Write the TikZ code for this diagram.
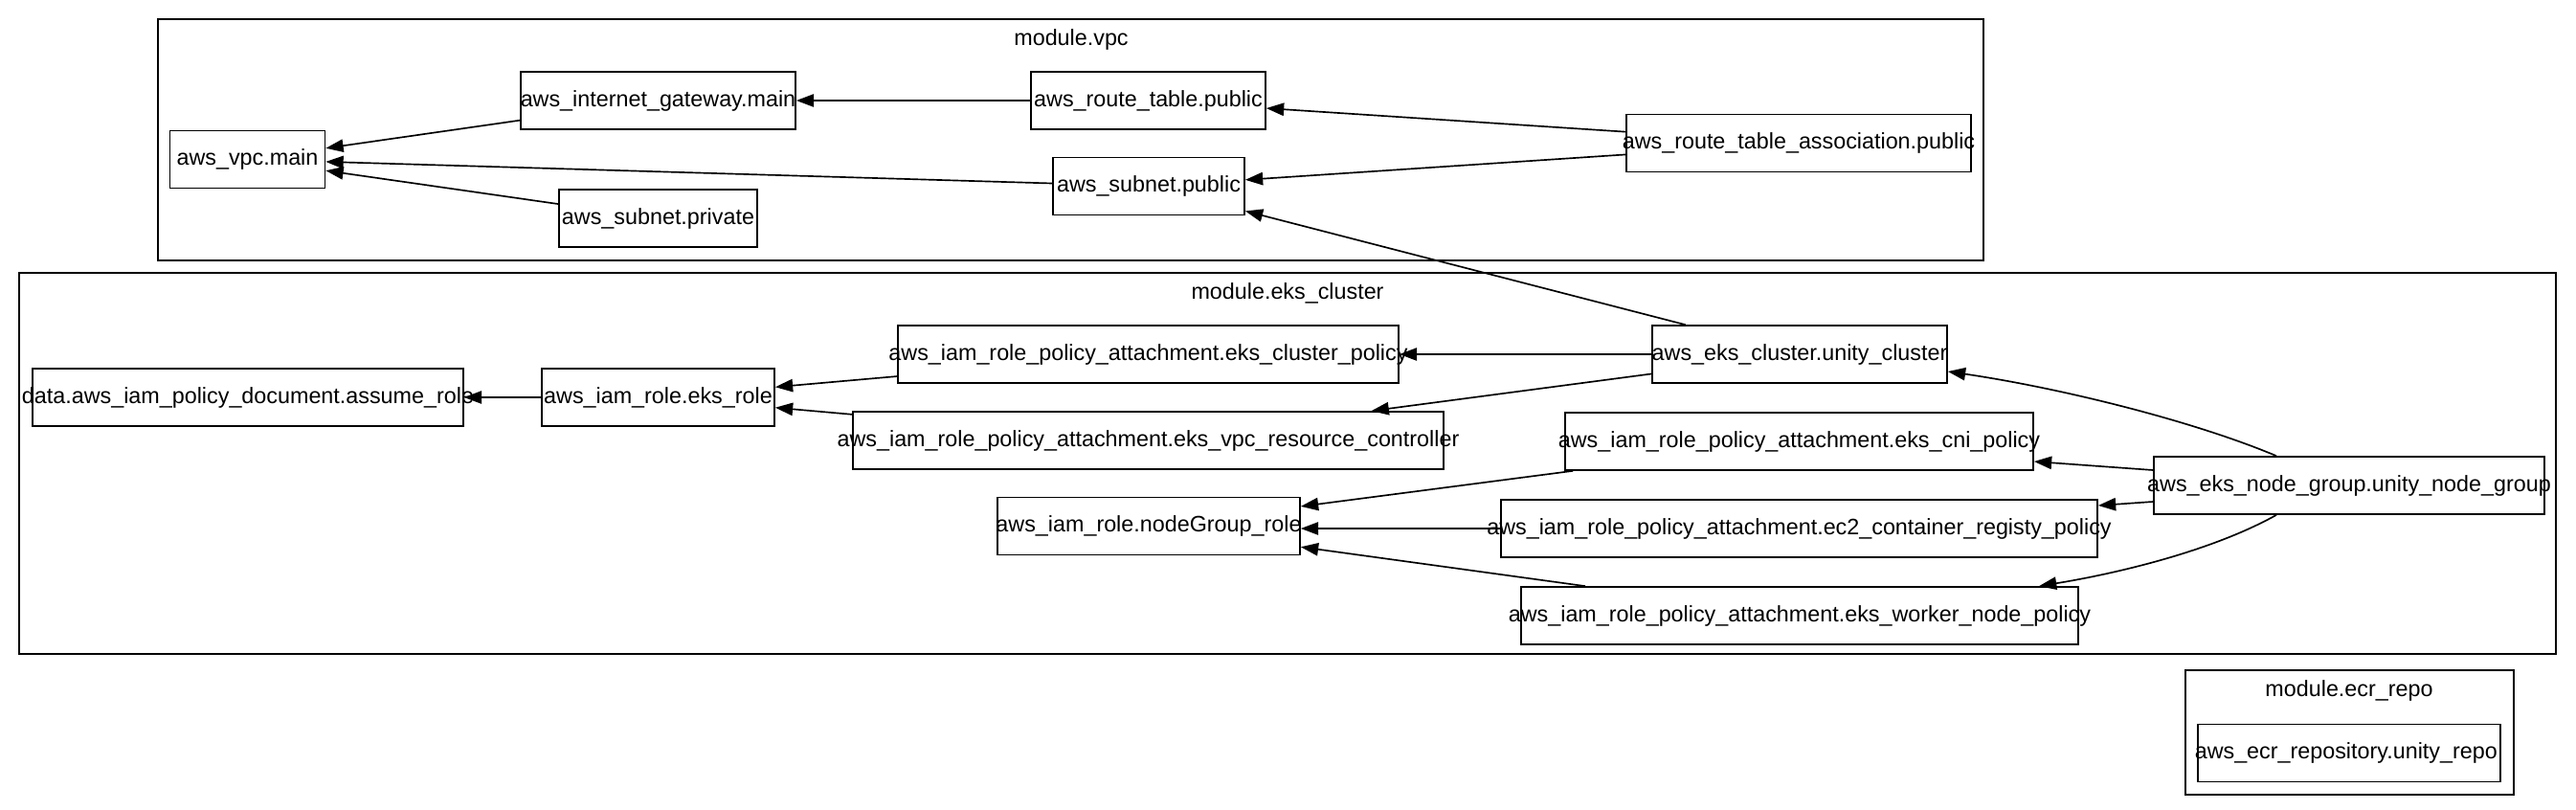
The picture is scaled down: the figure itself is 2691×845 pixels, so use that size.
\documentclass[tikz,border=0pt]{standalone}
\usepackage{fontspec}
\setmainfont{Liberation Sans}
\usetikzlibrary{
  calc, arrows.meta,
}

\begin{document}
\begin{tikzpicture}[
    x=0.6pt, y=-0.6pt,
    line width=1pt,
    font=\fontsize{14}{16}\selectfont,
    box/.style={
        rectangle, draw=black,
        minimum height=36pt, inner sep=0pt,
      },
    grp/.style={
        draw=black, line width=1pt,
      },
    arr/.style={
        black, line width=1pt, -{Triangle[length=11pt, width=8pt]},
      }
  ]
  \useasboundingbox (0,0) rectangle (2691,845);

  % module frames
  \draw[grp] (165,20) rectangle (2072,272);
  \draw[grp] (20,285) rectangle (2670,683);
  \draw[grp] (2283,700) rectangle (2626,830);
  \node (vpctitle) at (1119,41) {module.vpc};
  \node (ekstitle) at (1345,306) {module.eks\_cluster};
  \node (ecrtitle) at (2454,721) {module.ecr\_repo};

  \foreach \n/\x/\y/\w/\lbl in {
      vpcmain/258.5/166.5/162/aws\_vpc.main,
      igw/687.5/105/287/aws\_internet\_gateway.main,
      subpriv/687.5/228/207/aws\_subnet.private,
      rtpub/1199.5/105/245/aws\_route\_table.public,
      subpub/1200/194.5/200/aws\_subnet.public,
      rtassoc/1879/149.5/360/aws\_route\_table\_association.public,
      assume/259/415/450/data.aws\_iam\_policy\_document.assume\_role,
      eksrole/687.5/415/243/aws\_iam\_role.eks\_role,
      clpolicy/1199.5/370/523/aws\_iam\_role\_policy\_attachment.eks\_cluster\_policy,
      vpcctrl/1199.5/460/617/aws\_iam\_role\_policy\_attachment.eks\_vpc\_resource\_controller,
      ngrole/1200/549.5/316/aws\_iam\_role.nodeGroup\_role,
      cluster/1880/370/308/aws\_eks\_cluster.unity\_cluster,
      cnipolicy/1879.5/461/489/aws\_iam\_role\_policy\_attachment.eks\_cni\_policy,
      nodegroup/2454/507/408/aws\_eks\_node\_group.unity\_node\_group,
      ec2policy/1879.5/552/623/aws\_iam\_role\_policy\_attachment.ec2\_container\_registy\_policy,
      workerpolicy/1880/643/582/aws\_iam\_role\_policy\_attachment.eks\_worker\_node\_policy,
      ecrrepo/2454/786.5/316/aws\_ecr\_repository.unity\_repo
    }{
      \node[box, minimum width=\w*0.6pt] (\n) at (\x,\y) {\makebox[0pt]{\lbl}};
    }

  % module.vpc
  \draw[arr] (igw) -- (vpcmain);
  \draw[arr] (subpub) -- (vpcmain);
  \draw[arr] (subpriv) -- (vpcmain);
  \draw[arr] (rtpub) -- (igw);
  \draw[arr] (rtassoc) -- (rtpub);
  \draw[arr] (rtassoc) -- (subpub);

  % module.eks_cluster
  \draw[arr] (cluster) -- (subpub);
  \draw[arr] (cluster) -- (clpolicy);
  \draw[arr] (cluster) -- (vpcctrl);
  \draw[arr] (clpolicy) -- (eksrole);
  \draw[arr] (vpcctrl) -- (eksrole);
  \draw[arr] (eksrole) -- (assume);
  \draw[arr] (cnipolicy) -- (ngrole);
  \draw[arr] (ec2policy.west) -- (ec2policy.west -| ngrole.east);
  \draw[arr] (workerpolicy) -- (ngrole);
  \draw[arr] ($(nodegroup.west)+(0,-16)$) -- ($(cnipolicy.east)+(0,21)$);
  \draw[arr] ($(nodegroup.west)+(0,17)$) -- ($(ec2policy.east)+(0,-24)$);
  \draw[arr] ($(nodegroup.north)+(-76,0)$) .. controls +(-88,-37) and +(116,17) .. ($(cluster.east)+(0,18)$);
  \draw[arr] ($(nodegroup.south)+(-76,0)$) .. controls +(-68,38) and +(80,-13) .. ($(workerpolicy.north)+(250,0)$);
\end{tikzpicture}
\end{document}
